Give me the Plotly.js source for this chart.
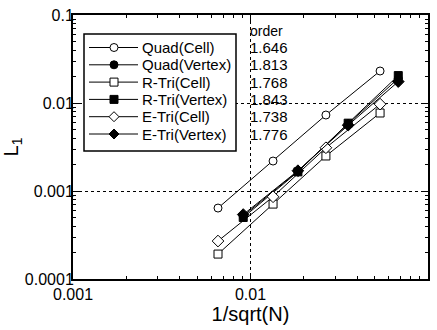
<!DOCTYPE html>
<html>
<head>
<meta charset="utf-8">
<script src="https://cdn.plot.ly/plotly-3.0.1.min.js"></script>
<style>html,body{margin:0;padding:0;background:#fff;}#chart{width:437px;height:330px;}</style>
</head>
<body>
<div id="chart"></div>
<script>
// ---- data ----
var seriesNames = ['Quad(Cell)', 'Quad(Vertex)', 'R-Tri(Cell)', 'R-Tri(Vertex)', 'E-Tri(Cell)', 'E-Tri(Vertex)'];
var orders = ['1.646', '1.813', '1.768', '1.843', '1.738', '1.776'];
var orderHeader = 'order';

var xCell = [0.00656, 0.0134, 0.0266, 0.0537];
var xVertex = [0.0091, 0.0185, 0.0355, 0.068];

var quadCell = [0.00064, 0.00219, 0.0073, 0.0231];
var quadVertex = [0.00052, 0.00168, 0.0058, 0.0190];
var rTriCell = [0.000192, 0.00071, 0.0025, 0.0077];
var rTriVertex = [0.00050, 0.00165, 0.0059, 0.0205];
var eTriCell = [0.00027, 0.00086, 0.0031, 0.0097];
var eTriVertex = [0.00054, 0.00170, 0.0056, 0.0175];

// ---- styling ----
var FONT = 'Liberation Sans, Arial, Helvetica, sans-serif';
var seriesDefs = [
  {x: xCell, y: quadCell, symbol: 'circle', fill: '#fff'},
  {x: xVertex, y: quadVertex, symbol: 'circle', fill: '#000'},
  {x: xCell, y: rTriCell, symbol: 'square', fill: '#fff'},
  {x: xVertex, y: rTriVertex, symbol: 'square', fill: '#000'},
  {x: xCell, y: eTriCell, symbol: 'diamond', fill: '#fff'},
  {x: xVertex, y: eTriVertex, symbol: 'diamond', fill: '#000'}
];

var traces = seriesDefs.map(function (d, i) {
  return {
    x: d.x, y: d.y, name: seriesNames[i],
    type: 'scatter', mode: 'lines+markers', showlegend: false,
    line: {color: '#000', width: 1},
    marker: {symbol: d.symbol, size: d.symbol === 'diamond' ? 9 : 8, color: d.fill,
             line: {color: '#000', width: 1}}
  };
});

// plot area in pixels: left 73, right 428, top 15, bottom 279
var plotTop = 15, plotH = 264, plotL = 73, plotW = 355;
function py(p) { return 1 - (p - plotTop) / plotH; }
function px(p) { return (p - plotL) / plotW; }

// ---- legend (drawn as a boxed key) ----
var rowY0 = 47.5, rowStep = 17.3;
var shapes = [{
  type: 'rect', xref: 'paper', yref: 'paper', layer: 'above',
  x0: px(84), x1: px(236), y0: py(34), y1: py(151),
  line: {color: '#000', width: 1.5}, fillcolor: '#fff'
}];
var annotations = [];
seriesDefs.forEach(function (d, i) {
  var yy = py(rowY0 + i * rowStep);
  shapes.push({
    type: 'line', xref: 'paper', yref: 'paper', layer: 'above',
    x0: px(89), x1: px(138), y0: yy, y1: yy, line: {color: '#000', width: 1}
  });
  var mk = {
    xref: 'paper', yref: 'paper', layer: 'above',
    xsizemode: 'pixel', ysizemode: 'pixel', xanchor: px(114), yanchor: yy,
    line: {color: '#000', width: 1}, fillcolor: d.fill
  };
  if (d.symbol === 'circle') { mk.type = 'circle'; mk.x0 = -4; mk.x1 = 4; mk.y0 = -4; mk.y1 = 4; }
  else if (d.symbol === 'square') { mk.type = 'rect'; mk.x0 = -4; mk.x1 = 4; mk.y0 = -4; mk.y1 = 4; }
  else { mk.type = 'path'; mk.path = 'M-5,0L0,5L5,0L0,-5Z'; }
  shapes.push(mk);
  annotations.push({
    xref: 'paper', yref: 'paper', x: px(140), y: yy, xanchor: 'left', yanchor: 'middle',
    text: seriesNames[i], showarrow: false, font: {family: FONT, size: 15, color: '#000'}
  });
});

annotations.push({
  xref: 'paper', yref: 'paper', x: px(248), y: py(31), xanchor: 'left', yanchor: 'middle',
  text: orderHeader, showarrow: false, font: {family: FONT, size: 14, color: '#000'}
});
orders.forEach(function (o, i) {
  annotations.push({
    xref: 'paper', yref: 'paper', x: px(248), y: py(rowY0 + i * rowStep), xanchor: 'left', yanchor: 'middle',
    text: o, showarrow: false, font: {family: FONT, size: 15, color: '#000'}
  });
});

var axisCommon = {
  type: 'log',
  dtick: 1,
  showline: true, linecolor: '#000', linewidth: 2, mirror: 'ticks',
  ticks: 'inside', ticklen: 6, tickwidth: 1, tickcolor: '#000',
  minor: {ticks: 'inside', ticklen: 3, tickwidth: 1, tickcolor: '#000', dtick: 'D1', showgrid: false},
  showgrid: true, gridcolor: '#000', gridwidth: 1, griddash: 'dot',
  zeroline: false,
  tickfont: {family: FONT, size: 16, color: '#000'},
  exponentformat: 'none'
};

var layout = {
  width: 437, height: 330,
  margin: {l: 73, r: 9, t: 15, b: 51},
  paper_bgcolor: '#fff', plot_bgcolor: '#fff',
  font: {family: FONT, color: '#000'},
  showlegend: false,
  xaxis: Object.assign({}, axisCommon, {
    range: [-3, -1],
    tickvals: [0.001, 0.01, 0.1], ticktext: ['0.001', '0.01', '0.1'],
    title: {text: '1/sqrt(N)', font: {family: FONT, size: 20, color: '#000'}, standoff: 4}
  }),
  yaxis: Object.assign({}, axisCommon, {
    range: [-4, -1],
    tickvals: [0.0001, 0.001, 0.01, 0.1], ticktext: ['0.0001', '0.001', '0.01', '0.1'],
    ticklabelstandoff: -6,
    title: {text: 'L<sub>1</sub>', font: {family: FONT, size: 20, color: '#000'}, standoff: 6}
  }),
  shapes: shapes,
  annotations: annotations
};

Plotly.newPlot('chart', traces, layout, {staticPlot: true, displayModeBar: false});
</script>
</body>
</html>
